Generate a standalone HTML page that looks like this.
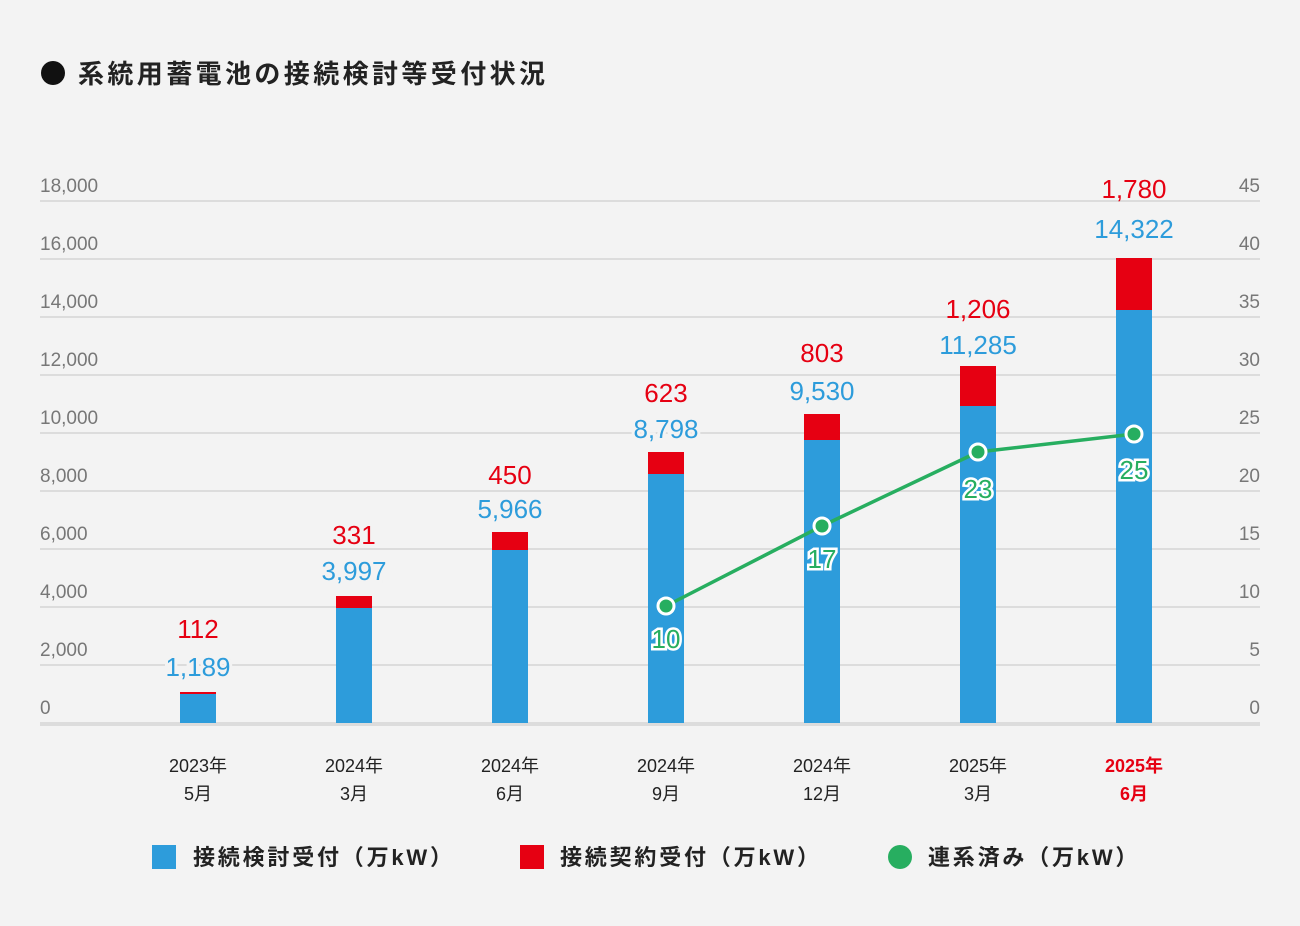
<!DOCTYPE html><html><head><meta charset="utf-8"><style>html,body{margin:0;background:#f3f3f3;overflow:hidden;width:1300px;height:926px}svg{display:block}</style></head><body>
<svg width="1300" height="926" viewBox="0 0 1300 926" xmlns="http://www.w3.org/2000/svg" font-family="Liberation Sans, Noto Sans CJK JP, sans-serif">
<rect width="1300" height="926" fill="#f3f3f3"/>
<circle cx="53" cy="73" r="12" fill="#111"/>
<text x="78" y="83" font-size="26" font-weight="bold" fill="#222" letter-spacing="3.4">系統用蓄電池の接続検討等受付状況</text>
<g stroke="#dcdcdc" stroke-width="2">
<line x1="40" x2="1260" y1="201" y2="201"/><line x1="40" x2="1260" y1="259" y2="259"/><line x1="40" x2="1260" y1="317" y2="317"/><line x1="40" x2="1260" y1="375" y2="375"/><line x1="40" x2="1260" y1="433" y2="433"/><line x1="40" x2="1260" y1="491" y2="491"/><line x1="40" x2="1260" y1="549" y2="549"/><line x1="40" x2="1260" y1="607" y2="607"/><line x1="40" x2="1260" y1="665" y2="665"/>
<line x1="40" x2="1260" y1="724" y2="724" stroke-width="4"/></g>
<g font-size="19" fill="#777">
<text x="40" y="192">18,000</text><text x="40" y="250">16,000</text><text x="40" y="308">14,000</text><text x="40" y="366">12,000</text><text x="40" y="424">10,000</text><text x="40" y="482">8,000</text><text x="40" y="540">6,000</text><text x="40" y="598">4,000</text><text x="40" y="656">2,000</text><text x="40" y="714">0</text>
<g text-anchor="end"><text x="1260" y="192">45</text><text x="1260" y="250">40</text><text x="1260" y="308">35</text><text x="1260" y="366">30</text><text x="1260" y="424">25</text><text x="1260" y="482">20</text><text x="1260" y="540">15</text><text x="1260" y="598">10</text><text x="1260" y="656">5</text><text x="1260" y="714">0</text></g></g>
<g fill="#2d9cdb">
<rect x="180" y="694" width="36" height="29"/><rect x="336" y="608" width="36" height="115"/><rect x="492" y="550" width="36" height="173"/><rect x="648" y="474" width="36" height="249"/><rect x="804" y="440" width="36" height="283"/><rect x="960" y="406" width="36" height="317"/><rect x="1116" y="310" width="36" height="413"/></g>
<g fill="#e60012">
<rect x="180" y="692" width="36" height="2"/><rect x="336" y="596" width="36" height="12"/><rect x="492" y="532" width="36" height="18"/><rect x="648" y="452" width="36" height="22"/><rect x="804" y="414" width="36" height="26"/><rect x="960" y="366" width="36" height="40"/><rect x="1116" y="258" width="36" height="52"/></g>
<g font-size="26" text-anchor="middle" fill="#e60012">
<text x="198" y="638">112</text><text x="354" y="544">331</text><text x="510" y="484">450</text><text x="666" y="402">623</text><text x="822" y="362">803</text><text x="978" y="318">1,206</text><text x="1134" y="198">1,780</text></g>
<g font-size="26" text-anchor="middle" fill="#2d9cdb" stroke="#f3f3f3" stroke-width="6" paint-order="stroke">
<text x="198" y="676">1,189</text><text x="354" y="580">3,997</text><text x="510" y="518">5,966</text><text x="666" y="438">8,798</text><text x="822" y="400">9,530</text><text x="978" y="354">11,285</text><text x="1134" y="238">14,322</text></g>
<polyline points="666,606 822,526 978,452 1134,434" fill="none" stroke="#27ae60" stroke-width="3.5"/>
<g fill="#27ae60" stroke="#fff" stroke-width="3"><circle cx="666" cy="606" r="8"/><circle cx="822" cy="526" r="8"/><circle cx="978" cy="452" r="8"/><circle cx="1134" cy="434" r="8"/></g>
<g font-size="26" text-anchor="middle" fill="#27ae60" stroke="#fff" stroke-width="5" paint-order="stroke">
<text x="666" y="648">10</text><text x="822" y="568">17</text><text x="978" y="498">23</text><text x="1134" y="479">25</text></g>
<g font-size="18" text-anchor="middle" fill="#222">
<text x="198" y="772">2023年</text><text x="198" y="800">5月</text>
<text x="354" y="772">2024年</text><text x="354" y="800">3月</text>
<text x="510" y="772">2024年</text><text x="510" y="800">6月</text>
<text x="666" y="772">2024年</text><text x="666" y="800">9月</text>
<text x="822" y="772">2024年</text><text x="822" y="800">12月</text>
<text x="978" y="772">2025年</text><text x="978" y="800">3月</text>
<text x="1134" y="772" fill="#e60012" font-weight="bold">2025年</text><text x="1134" y="800" fill="#e60012" font-weight="bold">6月</text></g>
<rect x="152" y="845" width="24" height="24" fill="#2d9cdb"/>
<rect x="520" y="845" width="24" height="24" fill="#e60012"/>
<circle cx="900" cy="857" r="12" fill="#27ae60"/>
<g font-size="22" font-weight="bold" fill="#222" letter-spacing="2.8">
<text x="193" y="865">接続検討受付（万kW）</text><text x="560" y="865">接続契約受付（万kW）</text><text x="928" y="865">連系済み（万kW）</text></g>
</svg></body></html>
